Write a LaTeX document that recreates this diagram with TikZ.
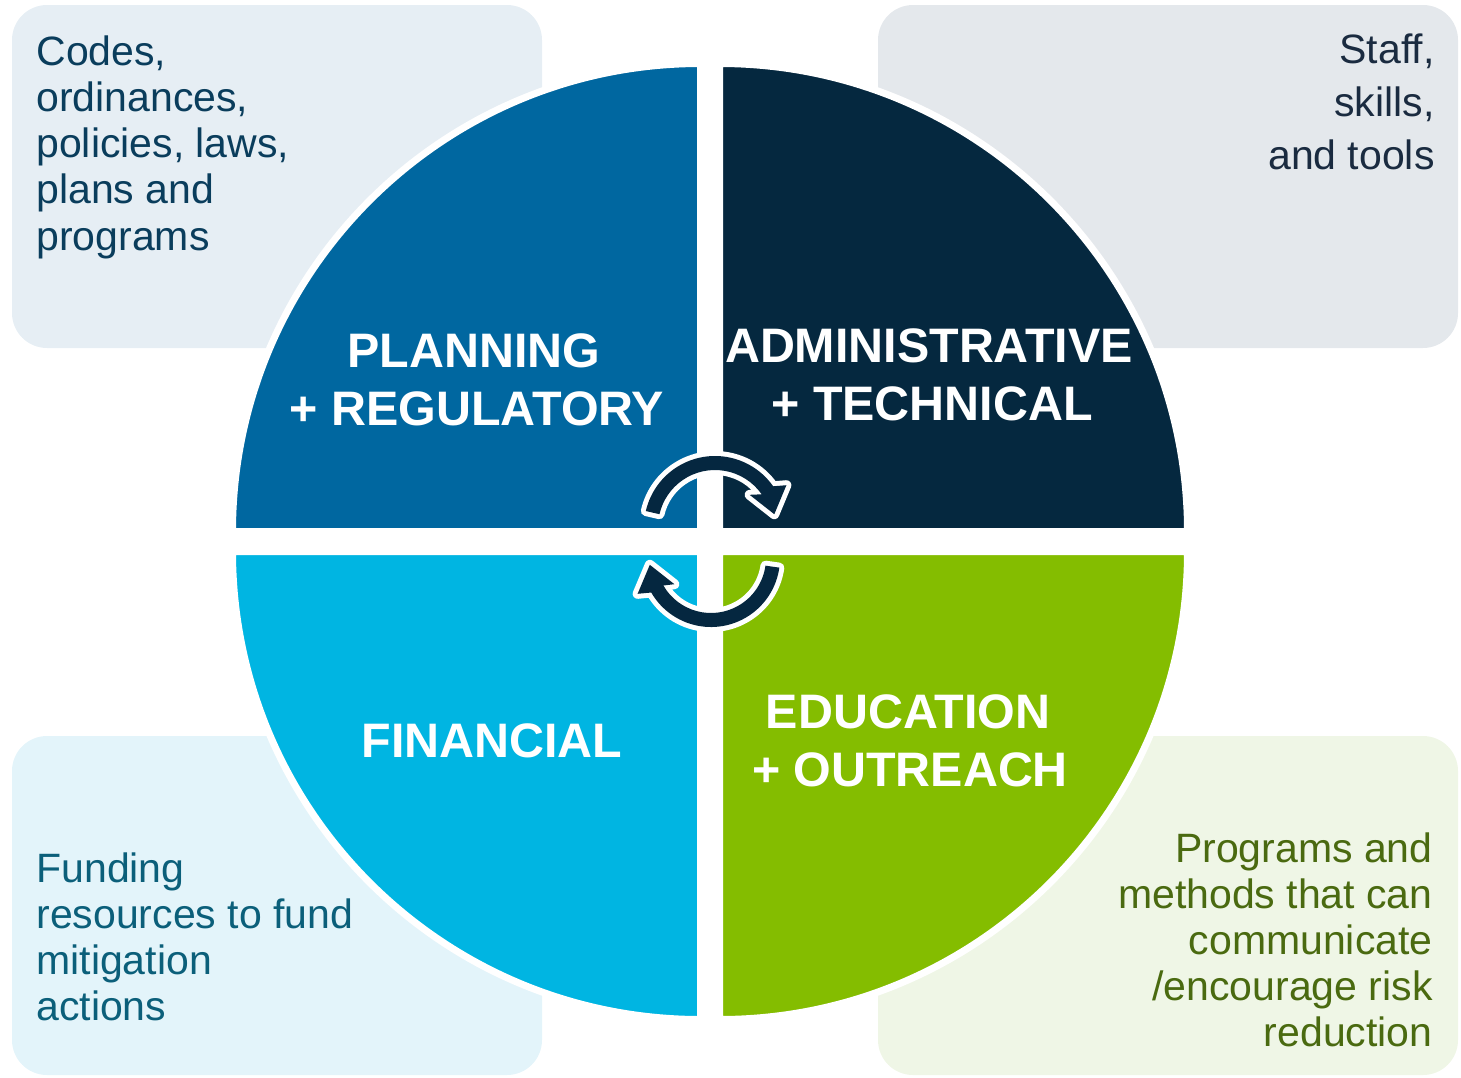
\documentclass[tikz,border=0pt]{standalone}
\usepackage{fontspec}
\setmainfont{Liberation Sans}
\usetikzlibrary{calc}
\definecolor{boxTL}{HTML}{E6EEF4}
\definecolor{boxTR}{HTML}{E4E8EC}
\definecolor{boxBL}{HTML}{E3F4FA}
\definecolor{boxBR}{HTML}{EFF6E6}
\definecolor{qTL}{HTML}{0067A0}
\definecolor{qTR}{HTML}{05283F}
\definecolor{qBL}{HTML}{00B5E2}
\definecolor{qBR}{HTML}{84BD00}
\definecolor{arrowcol}{HTML}{052740}
\definecolor{txtTL}{HTML}{0A3D5C}
\definecolor{txtTR}{HTML}{1A2B40}
\definecolor{txtBL}{HTML}{0B5F7A}
\definecolor{txtBR}{HTML}{4A6A10}
\begin{document}
\begin{tikzpicture}[x=0.5pt,y=-0.5pt,
  infobox/.style={rounded corners=17.5pt},
  quad/.style={draw=white, line width=3.5pt, line join=round},
  desc/.style={inner sep=0pt, font=\fontsize{20.5}{23}\selectfont},
  lbl/.style={inner sep=0pt, text=white, anchor=base, font=\bfseries\fontsize{24.2}{28}\selectfont},
  arrowback/.style={fill=white, draw=white, line width=5pt, line join=round},
  arrowfront/.style={fill=arrowcol}]
\useasboundingbox (0,0) rectangle (1461,1077);
% boxes
\fill[infobox, boxTL] (12,5) rectangle (542,348);
\fill[infobox, boxTR] (878,5) rectangle (1458,348);
\fill[infobox, boxBL] (12,736) rectangle (542,1075);
\fill[infobox, boxBR] (878,736) rectangle (1458,1075);
% quadrants
\coordinate (cTL) at (700.5,531.5);
\coordinate (cTR) at (719.5,531.5);
\coordinate (cBL) at (700.5,551.5);
\coordinate (cBR) at (719.5,551.5);
\def\qr{468}
\path[quad, fill=qTL] (cTL) -- ++(180:\qr) arc[start angle=180,end angle=270,radius=\qr] -- cycle;
\path[quad, fill=qTR] (cTR) -- ++(270:\qr) arc[start angle=270,end angle=360,radius=\qr] -- cycle;
\path[quad, fill=qBL] (cBL) -- ++(90:\qr) arc[start angle=90,end angle=180,radius=\qr] -- cycle;
\path[quad, fill=qBR] (cBR) -- ++(0:\qr) arc[start angle=0,end angle=90,radius=\qr] -- cycle;
% descriptions
\foreach \t [count=\i] in {{Codes,},{ordinances,},{policies, laws,},{plans and},{programs}}
  \node[desc, text=txtTL, anchor=base west] (dTL\i) at (36,{65+46.3*(\i-1)}) {\t};
\foreach \t [count=\i] in {{Staff,},{skills,},{and tools}}
  \node[desc, text=txtTR, anchor=base east] (dTR\i) at (1435,{63+53*(\i-1)}) {\t};
\foreach \t [count=\i] in {{Funding},{resources to fund},{mitigation},{actions}}
  \node[desc, text=txtBL, anchor=base west] (dBL\i) at (36,{882+46*(\i-1)}) {\t};
\foreach \t [count=\i] in {{Programs and},{methods that can},{communicate},{/encourage risk},{reduction}}
  \node[desc, text=txtBR, anchor=base east] (dBR\i) at (1433,{862+46*(\i-1)}) {\t};
% labels
\node[lbl] (lTL1) at (474,367) {PLANNING};
\node[lbl] (lTL2) at (477,425) {+ REGULATORY};
\node[lbl] (lTR1) at (929,362) {ADMINISTRATIVE};
\node[lbl] (lTR2) at (932,420) {+ TECHNICAL};
\node[lbl] (lBL1) at (492,757) {FINANCIAL};
\node[lbl] (lBR1) at (908,728) {EDUCATION};
\node[lbl] (lBR2) at (910,786) {+ OUTREACH};
% cycle arrows
\coordinate (C1) at (715,527);
\coordinate (C2) at (711,558);
\foreach \st in {arrowback, arrowfront} {
  \path[\st] ($(C1)+(193:71)$) arc[start angle=193,end angle=325,radius=71]
    -- (786.4,485.2) -- (774.3,514.2) -- (749.6,494.8)
    -- ($(C1)+(325:57)$) arc[start angle=325,end angle=193,radius=57] -- cycle;
  \path[\st] ($(C2)+(8:69)$) arc[start angle=8,end angle=150,radius=69]
    -- (637.6,593.8) -- (649.8,564.8) -- (674.4,584.2)
    -- ($(C2)+(150:55)$) arc[start angle=150,end angle=8,radius=55] -- cycle;
}
\end{tikzpicture}
\end{document}
